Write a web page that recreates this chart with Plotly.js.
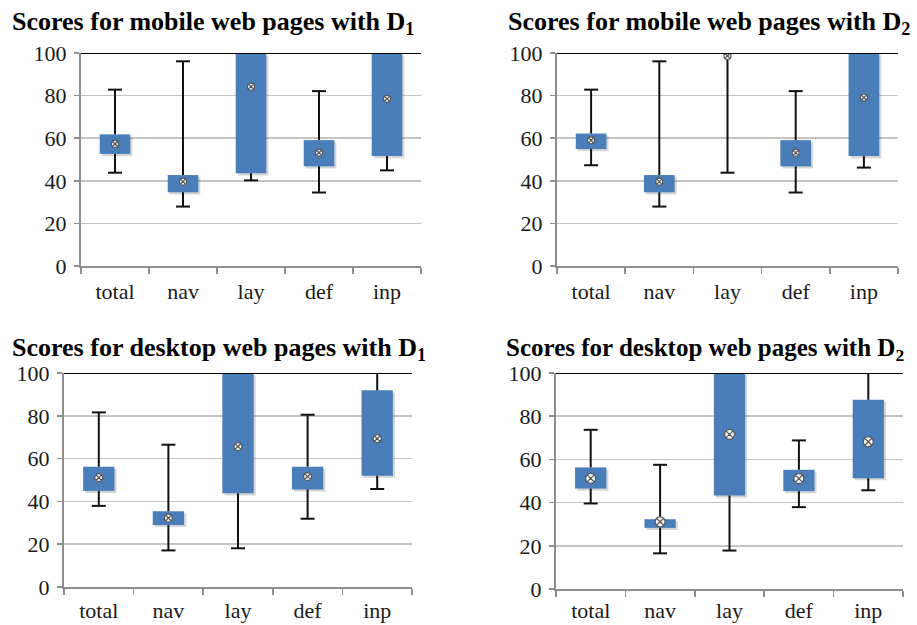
<!DOCTYPE html>
<html><head><meta charset="utf-8">
<script src="https://cdn.plot.ly/plotly-3.0.1.min.js"></script>
<style>html,body{margin:0;padding:0;background:#fff}#chart{width:917px;height:625px}</style>
</head><body><div id="chart"></div>
<script>
const categories = ['total', 'nav', 'lay', 'def', 'inp'];
const yTicks = [0, 20, 40, 60, 80, 100];

const titles = [
  'Scores for mobile web pages with D<sub>1</sub>',
  'Scores for mobile web pages with D<sub>2</sub>',
  'Scores for desktop web pages with D<sub>1</sub>',
  'Scores for desktop web pages with D<sub>2</sub>'
];

// mobile, D1
const mobD1Low  = [43.8, 27.9, 40.2, 34.5, 44.9];
const mobD1Q1   = [52.6, 34.6, 43.5, 46.8, 51.6];
const mobD1Mean = [57.3, 39.6, 84.2, 53.2, 78.5];
const mobD1Q3   = [61.8, 42.7, 100, 59.1, 100];
const mobD1High = [82.8, 96.1, 100, 82.1, 100];

// mobile, D2
const mobD2Low  = [47.3, 27.9, 43.8, 34.5, 46.2];
const mobD2Q1   = [54.9, 34.6, 100, 46.8, 51.6];
const mobD2Mean = [59.0, 39.6, 98.6, 53.2, 79.1];
const mobD2Q3   = [62.2, 42.7, 100, 59.1, 100];
const mobD2High = [82.8, 96.1, 100, 82.1, 100];

// desktop, D1
const deskD1Low  = [37.9, 17.1, 18.1, 31.9, 45.8];
const deskD1Q1   = [44.9, 29.0, 43.8, 45.6, 52.0];
const deskD1Mean = [51.1, 32.2, 65.6, 51.6, 69.3];
const deskD1Q3   = [56.2, 35.4, 100, 56.2, 91.9];
const deskD1High = [81.6, 66.5, 100, 80.5, 100];

// desktop, D2
const deskD2Low  = [39.6, 16.5, 17.8, 37.9, 45.7];
const deskD2Q1   = [46.5, 28.3, 43.3, 45.3, 51.3];
const deskD2Mean = [51.2, 31.1, 71.6, 51.1, 68.2];
const deskD2Q3   = [56.3, 32.3, 100, 55.2, 87.6];
const deskD2High = [73.7, 57.5, 100, 68.8, 100];

const panels = [
  {low: mobD1Low, q1: mobD1Q1, mean: mobD1Mean, q3: mobD1Q3, high: mobD1High},
  {low: mobD2Low, q1: mobD2Q1, mean: mobD2Mean, q3: mobD2Q3, high: mobD2High},
  {low: deskD1Low, q1: deskD1Q1, mean: deskD1Mean, q3: deskD1Q3, high: deskD1High},
  {low: deskD2Low, q1: deskD2Q1, mean: deskD2Mean, q3: deskD2Q3, high: deskD2High}
];

// layout geometry (pixels in a 917x625 page)
const W = 917, H = 625;
const boxes = [
  {x0: 81, x1: 421, y0: 53, y1: 266, tx: 10, ty: 23, ts: 26, ms: 7, so: 5},
  {x0: 557, x1: 898, y0: 53, y1: 266, tx: 506, ty: 23, ts: 26, ms: 7, so: 5},
  {x0: 64, x1: 412, y0: 373, y1: 587, tx: 10, ty: 349, ts: 26, ms: 8, so: 3},
  {x0: 556, x1: 903, y0: 373, y1: 589, tx: 504, ty: 349, ts: 25, ms: 10, so: 1}
];

const BLUE = '#4a7ebb';
const GRID = '#c4c4c4';
const AXIS = '#8e8e8e';
const FONT = '"Liberation Serif", "DejaVu Serif", serif';
const BOXW = 0.45;

const data = [];
const layout = {
  width: W, height: H,
  margin: {l: 0, r: 0, t: 0, b: 0},
  paper_bgcolor: '#ffffff',
  plot_bgcolor: '#ffffff',
  showlegend: false,
  barmode: 'overlay',
  font: {family: FONT},
  annotations: [],
  shapes: []
};

panels.forEach((p, i) => {
  const n = i + 1;
  const xa = n === 1 ? 'x' : 'x' + n;
  const ya = n === 1 ? 'y' : 'y' + n;
  const b = boxes[i];
  const heights = p.q3.map((v, k) => v - p.q1[k]);

  // soft drop shadow of the boxes
  data.push({
    type: 'bar', x: categories, y: heights,
    base: p.q1.map(v => v - 1.0),
    width: BOXW, offset: -BOXW / 2 + 0.03,
    marker: {color: 'rgba(70,70,70,0.22)', line: {width: 0}},
    xaxis: xa, yaxis: ya, hoverinfo: 'skip'
  });

  data.push({
    type: 'bar', x: categories, y: heights,
    base: p.q1,
    width: BOXW,
    marker: {color: BLUE, line: {width: 0}},
    xaxis: xa, yaxis: ya, hoverinfo: 'skip'
  });

  const wx = [], wy = [];
  categories.forEach((c, k) => {
    wx.push(c, c, null, c, c, null);
    wy.push(p.q3[k], p.high[k], null, p.low[k], p.q1[k], null);
  });
  data.push({
    type: 'scatter', mode: 'lines', x: wx, y: wy, connectgaps: false,
    line: {color: '#111', width: 2},
    xaxis: xa, yaxis: ya, hoverinfo: 'skip'
  });

  data.push({
    type: 'scatter', mode: 'markers',
    x: categories.concat(categories),
    y: p.high.concat(p.low),
    marker: {symbol: 'line-ew', size: 10, line: {color: '#111', width: 2}},
    xaxis: xa, yaxis: ya, hoverinfo: 'skip'
  });

  data.push({
    type: 'scatter', mode: 'markers', x: categories, y: p.mean,
    marker: {symbol: 'circle-x', size: b.ms, color: '#f4f4f4', line: {color: '#555', width: 1.2}},
    xaxis: xa, yaxis: ya, hoverinfo: 'skip'
  });

  layout[n === 1 ? 'xaxis' : 'xaxis' + n] = {
    domain: [b.x0 / W, b.x1 / W],
    anchor: ya,
    type: 'category',
    range: [-0.5, categories.length - 0.5],
    showgrid: false, zeroline: false,
    showline: true, linecolor: AXIS, linewidth: 2,
    ticks: 'outside', tickson: 'boundaries', ticklen: 6, tickwidth: 1.5, tickcolor: AXIS,
    ticklabelstandoff: b.so,
    tickfont: {family: FONT, size: 22, color: '#1a1a1a'},
    fixedrange: true
  };
  layout[n === 1 ? 'yaxis' : 'yaxis' + n] = {
    domain: [1 - b.y1 / H, 1 - b.y0 / H],
    anchor: xa,
    range: [0, 100],
    tickmode: 'array', tickvals: yTicks,
    showgrid: true, gridcolor: GRID, gridwidth: 1.5,
    zeroline: false,
    showline: true, linecolor: AXIS, linewidth: 2,
    ticks: 'outside', ticklen: 5, tickwidth: 1.5, tickcolor: AXIS,
    ticklabelstandoff: 3,
    tickfont: {family: FONT, size: 22, color: '#1a1a1a'},
    fixedrange: true
  };

  layout.shapes.push({
    type: 'line', xref: xa + ' domain', yref: ya,
    x0: 0, x1: 1, y0: 100, y1: 100,
    line: {color: '#000', width: 2}
  });

  layout.annotations.push({
    text: '<b>' + titles[i] + '</b>',
    xref: 'paper', yref: 'paper',
    x: b.tx / W, y: 1 - b.ty / H,
    xanchor: 'left', yanchor: 'middle',
    showarrow: false,
    font: {family: FONT, size: b.ts, color: '#000'}
  });
});

Plotly.newPlot('chart', data, layout, {displayModeBar: false, staticPlot: true});
</script>
</body></html>
